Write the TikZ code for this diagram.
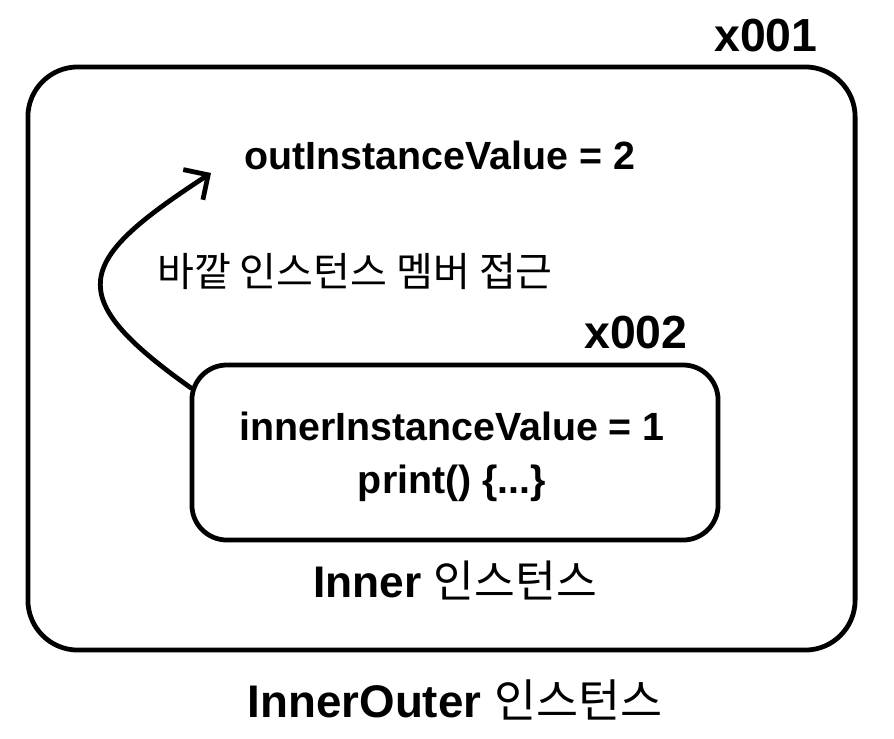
\documentclass[tikz,border=0pt]{standalone}
\usepackage{fontspec}
\setmainfont{Liberation Sans}
\newfontfamily\kr{Noto Sans CJK KR}
\usetikzlibrary{arrows.meta}
\begin{document}
\begin{tikzpicture}[x=0.025cm, y=-0.025cm, line width=3.4pt]
  \tikzstyle{box}=[draw,rounded corners=1.25cm,inner sep=0pt]
  \tikzstyle{addr}=[font=\fontsize{33}{38}\selectfont\bfseries]
  \tikzstyle{member}=[font=\fontsize{28}{38}\selectfont\bfseries,align=center]
  \tikzstyle{caption}=[font=\fontsize{31.5}{36}\selectfont\bfseries]
  \useasboundingbox (0,0) rectangle (894,738);
  \node[box,minimum width=20.675cm,minimum height=14.575cm] (outer) at (441.5,358.5) {};
  \node[box,rounded corners=0.875cm,minimum width=13.15cm,minimum height=4.375cm] (inner) at (455,452.5) {};
  \node[addr] (adr1) at (766,36) {x001};
  \node[addr] (adr2) at (636,333) {x002};
  \node[member] (outval) at (440,155) {outInstanceValue = 2};
  \node[member] (innerval) at (452,457) {innerInstanceValue = 1\\print() \{...\}};
  \node[font=\fontsize{28.5}{32}\selectfont\kr] (access) at (355,272) {바깥 인스턴스 멤버 접근};
  \node[caption] (innername) at (455,580) {Inner {\kr\mdseries 인스턴스}};
  \node[caption,font=\fontsize{32.5}{36}\selectfont\bfseries] (outername) at (455,700) {InnerOuter {\kr\mdseries 인스턴스}};
  \coordinate (from) at (191,388);
  \coordinate (tip) at (211,173);
  \draw[-{Straight Barb[length=4.5mm,width=9mm]},line cap=round] (from) .. controls (60,295) and (76,261) .. (tip);
\end{tikzpicture}
\end{document}
